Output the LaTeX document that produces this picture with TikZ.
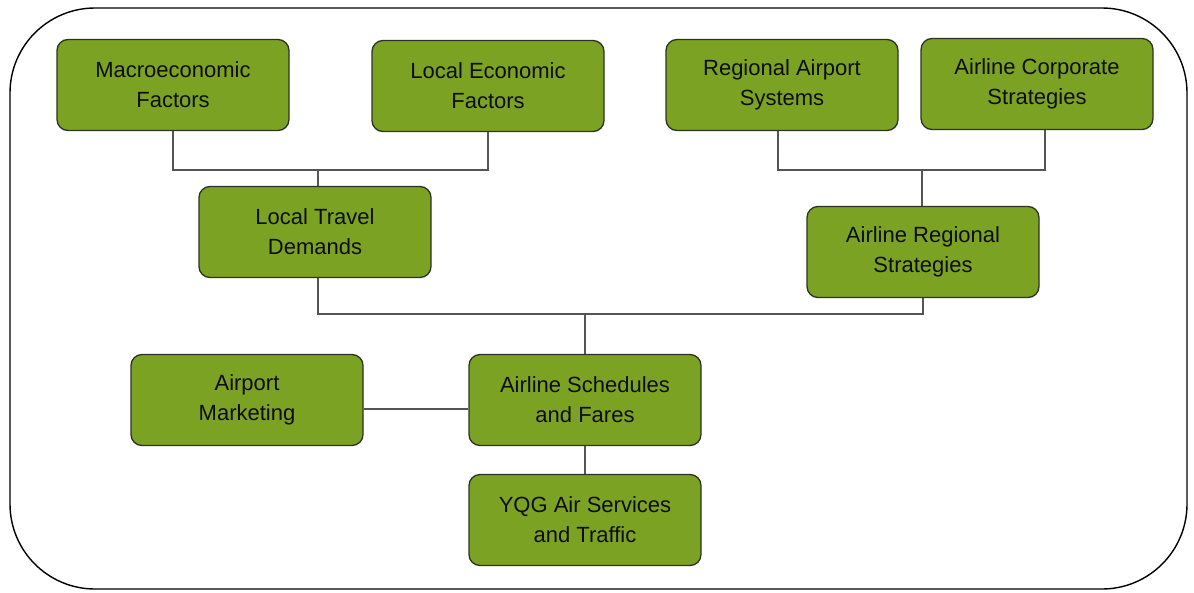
\documentclass[tikz,border=0pt]{standalone}
\usepackage{fontspec}
\setmainfont{Liberation Sans}
\usepackage{tikz}
\usetikzlibrary{positioning}

\definecolor{boxgreen}{RGB}{124,162,36}
\definecolor{boxedge}{RGB}{45,50,35}
\definecolor{linkgray}{RGB}{85,85,85}

\tikzset{
  factor/.style={draw=boxedge, line width=1.3pt, fill=boxgreen, rounded corners=11pt,
    minimum width=232pt, minimum height=91pt, align=center, text=black!95,
    font=\fontsize{22}{30}\selectfont},
  link/.style={draw=linkgray, line width=1.3pt}
}

\begin{document}
\begin{tikzpicture}[x=1pt, y=-1pt]
  % frame round the whole chart
  \useasboundingbox (0,0) rectangle (1194,592);
  \draw[line width=1.4pt, rounded corners=85pt] (10,8) rectangle (1187,589);

  % top row
  \node[factor] (mef) at (173,85) {Macroeconomic\\Factors};
  \node[factor] (lef) at (488,86) {Local Economic\\Factors};
  \node[factor] (ras) at (782,85) {Regional Airport\\Systems};
  \node[factor] (acs) at (1037,84) {Airline Corporate\\Strategies};

  % middle row
  \node[factor] (ltd) at (315,232) {Local Travel\\Demands};
  \node[factor] (ars) at (923,252) {Airline Regional\\Strategies};

  % lower rows
  \node[factor] (apm) at (247,400) {Airport\\Marketing};
  \node[factor] (asf) at (585,400) {Airline Schedules\\and Fares};
  \node[factor] (yqg) at (585,520) {YQG Air Services\\and Traffic};

  % junctions
  \coordinate (jl) at (318,170);
  \coordinate (jr) at (922,170);
  \coordinate (jm) at (585,314);

  \draw[link] (mef.south) |- (jl) -| (lef.south);
  \draw[link] (jl) -- (ltd.north -| jl);
  \draw[link] (ras.south -| 778,0) |- (jr) -| (acs.south -| 1045,0);
  \draw[link] (jr) -- (ars.north -| jr);
  \draw[link] (ltd.south -| 318,0) |- (jm) -| (ars.south);
  \draw[link] (jm) -- (asf.north);
  \draw[link] (apm.east |- 0,409) -- (asf.west |- 0,409);
  \draw[link] (asf.south) -- (yqg.north);
\end{tikzpicture}
\end{document}
